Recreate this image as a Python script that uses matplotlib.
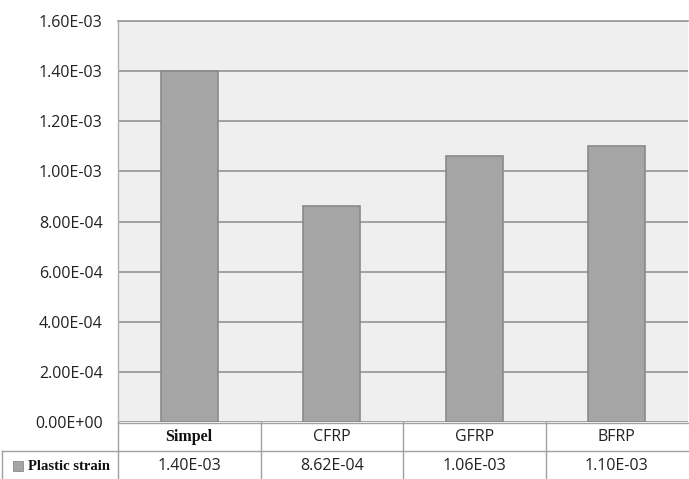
import matplotlib
matplotlib.use("Agg")
import matplotlib.pyplot as plt
from matplotlib.patches import Rectangle
from matplotlib.lines import Line2D

categories = ["Simpel", "CFRP", "GFRP", "BFRP"]
plastic_strain = [1.40e-3, 8.62e-4, 1.06e-3, 1.10e-3]
value_labels = ["1.40E-03", "8.62E-04", "1.06E-03", "1.10E-03"]
series_name = "Plastic strain"
y_ticks = [0.0, 2e-4, 4e-4, 6e-4, 8e-4, 1.0e-3, 1.2e-3, 1.4e-3, 1.6e-3]
y_tick_labels = ["0.00E+00", "2.00E-04", "4.00E-04", "6.00E-04", "8.00E-04",
                 "1.00E-03", "1.20E-03", "1.40E-03", "1.60E-03"]

W, H = 689, 479
fig = plt.figure(figsize=(W / 100, H / 100), dpi=100)
fig.patch.set_facecolor("white")

# plot area in pixel coordinates
x0, x1 = 118, 688
y_top, y_bot = 21, 422
ax = fig.add_axes([x0 / W, 1 - y_bot / H, (x1 - x0) / W, (y_bot - y_top) / H])
ax.set_facecolor("#efefef")

bar_color = "#a5a5a5"
edge_color = "#8a8a8a"
grid_color = "#8c8c8c"

xs = list(range(len(categories)))
ax.bar(xs, plastic_strain, width=0.4, color=bar_color, edgecolor=edge_color,
       linewidth=1.2, zorder=3)
ax.set_xlim(-0.5, len(categories) - 0.5)
ax.set_ylim(0, 1.6e-3)
ax.set_yticks(y_ticks)
ax.set_yticklabels(y_tick_labels, fontsize=11.5, family="Open Sans", color="#222222")
ax.set_xticks([])
ax.tick_params(axis="y", length=0, pad=11)
ax.yaxis.grid(True, color=grid_color, linewidth=1.1, zorder=1)
ax.set_axisbelow(True)
for side in ["right", "bottom"]:
    ax.spines[side].set_visible(False)
ax.spines["left"].set_color("#b0b0b0")
ax.spines["left"].set_linewidth(1.0)
ax.spines["top"].set_color("#9a9a9a")
ax.spines["top"].set_linewidth(1.2)

# data table below the plot area
tax = fig.add_axes([0, 0, 1, (H - y_bot) / H])
tax.set_xlim(0, W)
tax.set_ylim(H, y_bot)
tax.axis("off")

line_kw = dict(color="#a0a0a0", linewidth=1.0)
row_mid = 451
cell_w = (x1 - x0) / len(categories)
tax.add_line(Line2D([x0, x1], [y_bot + 0.5, y_bot + 0.5], **line_kw))
tax.add_line(Line2D([2, x1], [row_mid, row_mid], **line_kw))
tax.add_line(Line2D([2, 2], [row_mid, H], **line_kw))
for i in range(len(categories)):
    xe = x0 + i * cell_w
    tax.add_line(Line2D([xe, xe], [y_bot, H], **line_kw))

for i, (cat, lab) in enumerate(zip(categories, value_labels)):
    cx = x0 + (i + 0.5) * cell_w
    if i == 0:
        tax.text(cx, 437, cat, ha="center", va="center", fontsize=11.5,
                 family="Liberation Serif", weight="bold", color="#111111")
    else:
        tax.text(cx, 437, cat, ha="center", va="center", fontsize=11.5,
                 family="Open Sans", color="#222222")
    tax.text(cx, 466, lab, ha="center", va="center", fontsize=11.5,
             family="Open Sans", color="#222222")

# legend key and series name
tax.add_patch(Rectangle((13, 461), 10, 10, facecolor=bar_color,
                        edgecolor=edge_color, linewidth=0.6))
tax.text(28, 466, series_name, ha="left", va="center", fontsize=10.5,
         family="Liberation Serif", weight="bold", color="#111111")

fig.savefig("out.png", dpi=100, facecolor="white")
